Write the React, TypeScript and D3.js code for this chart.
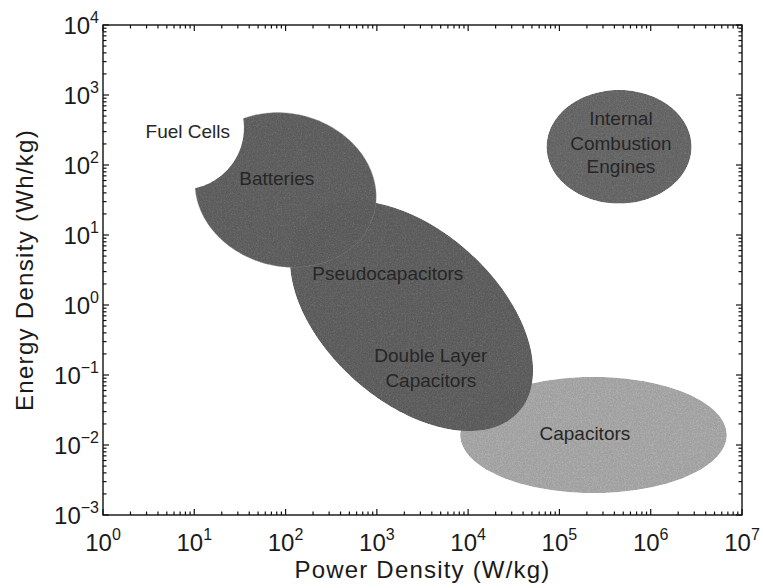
import React from 'react';
import * as d3 from 'd3';

// canvas + plot box
const W = 763;
const H = 588;
const left = 103, right = 742, top = 25, bottom = 515;

// tick labels (powers of ten)
const xExponents = [0, 1, 2, 3, 4, 5, 6, 7];
const yExponents = [-3, -2, -1, 0, 1, 2, 3, 4];

// regions: centre and two conjugate half-axis end points, in (W/kg, Wh/kg)
const regionNames = ['Capacitors', 'Double Layer Capacitors', 'Batteries', 'Fuel Cells', 'Internal Combustion Engines'];
const centerPower = [236000, 2400, 100, 7.3, 450000];
const centerEnergy = [0.0139, 0.7, 44, 340, 182];
const axisAPower = [6.8e6, 36000, 930, 35, 2.8e6];
const axisAEnergy = [0.0139, 0.03, 20, 340, 182];
const axisBPower = [236000, 570, 60, 7.3, 450000];
const axisBEnergy = [0.094, 0.085, 3.9, 2600, 1180];
const regionFill = ['#b4b4b4', '#6e6e6e', '#6f6f6f', '#ffffff', '#767676'];

// region labels (baseline anchor points)
const labelText = ['Fuel Cells', 'Batteries', 'Pseudocapacitors', 'Double Layer', 'Capacitors', 'Internal', 'Combustion', 'Engines', 'Capacitors'];
const labelPower = [8.5, 80, 1320, 3900, 3900, 472000, 472000, 472000, 190000];
const labelEnergy = [243, 52, 2.28, 0.153, 0.0674, 373, 164, 77, 0.0118];

const font = "'Liberation Sans', Arial, Helvetica, sans-serif";

const App = () => {
  const x = d3.scaleLog().domain([1, 1e7]).range([left, right]);
  const y = d3.scaleLog().domain([1e-3, 1e4]).range([bottom, top]);

  const outline = (i: number) => {
    const cx = x(centerPower[i]), cy = y(centerEnergy[i]);
    const ux = x(axisAPower[i]) - cx, uy = y(axisAEnergy[i]) - cy;
    const vx = x(axisBPower[i]) - cx, vy = y(axisBEnergy[i]) - cy;
    const pts = d3.range(0, 2 * Math.PI, Math.PI / 90).map(t => [
      cx + Math.cos(t) * ux + Math.sin(t) * vx,
      cy + Math.cos(t) * uy + Math.sin(t) * vy,
    ] as [number, number]);
    return d3.line().curve(d3.curveLinearClosed)(pts) || '';
  };

  const xTicks = x.ticks();
  const yTicks = y.ticks();
  const isMajor = (v: number) => Math.abs(Math.log10(v) - Math.round(Math.log10(v))) < 1e-9;
  const sup = (e: number) => (e < 0 ? '\u2212' + Math.abs(e) : String(e));

  // draw order: capacitors, DLC, batteries, then fuel cell bite, then ICE
  const shaded = [0, 1, 2];

  return (
    <svg width={W} height={H} style={{ position: 'fixed', left: 0, top: 0, background: '#fff' }} fontFamily={font}>
      <defs>
        <filter id="grain" x="-5%" y="-5%" width="110%" height="110%" colorInterpolationFilters="sRGB">
          <feTurbulence type="fractalNoise" baseFrequency="0.75" numOctaves="2" seed="5" result="n" />
          <feColorMatrix in="n" type="saturate" values="0" result="g" />
          <feComposite in="SourceGraphic" in2="g" operator="arithmetic" k1="0" k2="1" k3="0.3" k4="-0.15" result="m" />
          <feComposite in="m" in2="SourceGraphic" operator="in" />
        </filter>
      </defs>
      <rect width={W} height={H} fill="#fff" />

      {shaded.map(i => (
        <path key={regionNames[i]} d={outline(i)} fill={regionFill[i]} filter="url(#grain)"
          stroke={i === 2 ? '#a0a0a0' : 'none'} strokeWidth={1} strokeOpacity={0.6} />
      ))}
      <path d={outline(3)} fill={regionFill[3]} />
      <path d={outline(4)} fill={regionFill[4]} filter="url(#grain)" />

      {labelText.map((t, i) => (
        <text key={i} x={x(labelPower[i])} y={y(labelEnergy[i])} textAnchor="middle"
          fontSize={19} fill="#262626">{t}</text>
      ))}

      {/* frame */}
      <rect x={left} y={top} width={right - left} height={bottom - top} fill="none" stroke="#111" strokeWidth={1.4} />

      {/* x ticks, bottom and top, inward */}
      {xTicks.map((v, i) => {
        const len = isMajor(v) ? 6 : 3.5;
        return (
          <g key={'xt' + i} stroke="#111" strokeWidth={1.2}>
            <line x1={x(v)} x2={x(v)} y1={bottom} y2={bottom - len} />
            <line x1={x(v)} x2={x(v)} y1={top} y2={top + len} />
          </g>
        );
      })}
      {yTicks.map((v, i) => {
        const len = isMajor(v) ? 6 : 3.5;
        return (
          <g key={'yt' + i} stroke="#111" strokeWidth={1.2}>
            <line x1={left} x2={left + len} y1={y(v)} y2={y(v)} />
            <line x1={right} x2={right - len} y1={y(v)} y2={y(v)} />
          </g>
        );
      })}

      {/* tick labels */}
      {xExponents.map(e => (
        <text key={'xl' + e} x={x(Math.pow(10, e))} y={551} textAnchor="middle" fontSize={24} fill="#1a1a1a">
          10<tspan fontSize={16} dy={-11}>{sup(e)}</tspan>
        </text>
      ))}
      {yExponents.map(e => (
        <text key={'yl' + e} x={99} y={y(Math.pow(10, e)) + 9} textAnchor="end" fontSize={24} fill="#1a1a1a">
          10<tspan fontSize={16} dy={-11}>{sup(e)}</tspan>
        </text>
      ))}

      {/* axis titles */}
      <text x={(left + right) / 2} y={578} textAnchor="middle" fontSize={24} letterSpacing={1.2} fill="#1a1a1a">
        Power Density (W/kg)
      </text>
      <text transform={`translate(33,${(top + bottom) / 2}) rotate(-90)`} textAnchor="middle" fontSize={24}
        letterSpacing={1.3} fill="#1a1a1a">
        Energy Density (Wh/kg)
      </text>
    </svg>
  );
};

export default App;
